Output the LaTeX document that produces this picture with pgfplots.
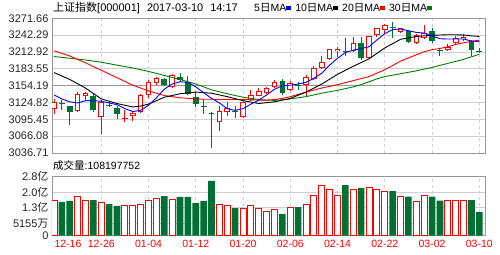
\documentclass[border=0pt]{standalone}
\usepackage{pgfplots}
\pgfplotsset{compat=1.18}
\usepackage{pgfplotstable}
\usepackage{fontspec}
\setmainfont{Liberation Sans}
\newfontfamily\cjk{Noto Sans CJK SC}
\definecolor{kred}{RGB}{255,0,0}
\definecolor{kgreen}{RGB}{0,112,52}
\definecolor{magreen}{RGB}{0,128,0}
\definecolor{gridc}{RGB}{208,208,208}
\definecolor{framec}{RGB}{150,150,150}

% up (red) candles: index, open, high, low, close, volume (100 million)
\pgfplotstableread{
i O H L C V
0 3114.1 3130.8 3105.4 3125.0 1.69
3 3109.4 3142.4 3108.3 3139.5 1.87
4 3135.5 3143.6 3128.5 3140.7 1.69
6 3099.0 3128.5 3070.6 3125.0 1.58
9 3096.0 3112.3 3090.3 3097.7 1.41
10 3100.7 3110.6 3092.1 3106.5 1.41
11 3107.7 3138.9 3106.5 3137.2 1.49
12 3137.2 3164.4 3132.0 3160.3 1.69
13 3158.6 3168.4 3155.7 3166.7 1.77
15 3151.7 3174.8 3149.9 3173.1 1.72
21 3090.3 3118.1 3074.7 3109.4 1.46
22 3107.7 3125.0 3100.7 3115.2 1.41
24 3099.6 3127.4 3097.8 3125.0 1.31
25 3128.5 3145.9 3127.0 3137.2 1.41
26 3136.6 3149.9 3135.5 3144.2 1.31
27 3141.3 3151.0 3139.0 3149.4 1.17
28 3151.7 3164.4 3150.0 3160.3 1.22
30 3145.9 3161.5 3144.1 3158.6 1.36
32 3155.7 3173.1 3133.7 3168.4 1.50
33 3166.1 3188.0 3164.0 3185.8 1.93
34 3184.7 3206.1 3184.0 3196.2 2.40
35 3200.9 3218.5 3199.0 3217.6 2.20
36 3214.0 3222.0 3205.0 3218.0 1.93
38 3214.7 3238.5 3213.0 3229.2 2.20
40 3202.0 3241.5 3200.0 3240.8 2.31
41 3242.5 3254.5 3239.6 3254.1 2.17
42 3251.2 3262.0 3245.0 3260.5 2.12
44 3248.3 3255.0 3246.0 3254.1 1.88
46 3228.1 3243.5 3226.5 3242.5 1.60
47 3236.7 3259.9 3235.0 3246.6 1.93
50 3216.4 3226.0 3214.0 3222.3 1.65
51 3229.0 3240.0 3227.0 3238.0 1.69
52 3235.5 3245.0 3232.0 3239.5 1.69
}\upc

% down (green) candles
\pgfplotstableread{
i O H L C V
1 3123.7 3128.5 3112.3 3122.0 1.60
2 3118.1 3119.0 3086.3 3107.7 1.65
5 3135.5 3139.5 3107.7 3112.3 1.69
7 3120.2 3125.0 3116.4 3118.5 1.50
8 3115.2 3118.1 3096.1 3105.4 1.41
14 3165.6 3167.5 3154.0 3155.7 1.88
16 3168.4 3175.4 3159.8 3163.2 1.84
17 3159.8 3171.3 3138.4 3140.1 1.84
18 3133.7 3143.6 3116.4 3122.7 1.55
19 3118.1 3130.8 3105.4 3116.4 1.65
20 3107.0 3108.0 3045.0 3104.0 2.60
23 3109.2 3118.1 3097.8 3107.5 1.31
29 3161.5 3165.6 3138.4 3141.3 1.04
31 3156.0 3160.0 3146.0 3153.5 1.36
37 3215.0 3236.7 3206.0 3213.0 2.40
39 3228.1 3238.5 3199.0 3203.2 2.26
43 3257.0 3264.5 3236.7 3254.0 2.12
45 3249.5 3252.0 3228.1 3229.8 1.85
48 3250.0 3254.1 3228.1 3231.5 1.85
49 3216.0 3219.0 3206.0 3214.3 1.66
53 3232.0 3233.0 3206.7 3216.5 1.69
54 3214.7 3219.0 3211.0 3213.0 1.12
}\downc

% moving averages
\pgfplotstableread{
i m5 m10 m20 m30
0 3138 3177 3215 3205
1 3131 3171 3210.5 3203.5
2 3126 3165 3206 3202
3 3124 3157.5 3200 3200.5
4 3128 3150 3194 3199
5 3128 3140.5 3187.5 3197
6 3127 3131 3181 3195
7 3124 3127 3174.5 3192.5
8 3121 3123 3168 3190
9 3114 3120 3161.5 3187.5
10 3109 3117 3155 3185
11 3111 3118.5 3150 3182
12 3120 3122 3145 3179
13 3133 3128 3141 3175.5
14 3148 3134 3137 3172
15 3157 3137 3135 3168.5
16 3161 3140 3133 3165
17 3160 3141.5 3132 3161
18 3152 3143 3131 3157
19 3142 3142 3130.5 3152
20 3132 3141 3130.5 3147
21 3124 3138 3130 3143.5
22 3114 3135 3130 3140
23 3111 3131.5 3130 3137
24 3114 3128 3130 3134
25 3122 3125.5 3129.5 3132
26 3129 3123 3129 3130
27 3138 3124.5 3129 3129
28 3148 3126 3130 3128.5
29 3154 3129 3132 3129.5
30 3155 3132 3135 3131
31 3157 3137.5 3139 3133
32 3160 3143 3143 3135
33 3167 3150 3146.5 3138
34 3176 3157 3150 3141
35 3190 3165.5 3153 3143.5
36 3202 3174 3156 3146
37 3212 3181 3159.5 3149
38 3216 3188 3163 3152
39 3219 3194.5 3166.5 3156
40 3222 3201 3170 3161
41 3234 3210.5 3176 3166
42 3245 3220 3182 3170
43 3252 3227.5 3189.5 3172.5
44 3253 3235 3197 3175
45 3250 3237.5 3202.5 3177.5
46 3247 3240 3208 3180
47 3246 3241 3213.5 3183
48 3241 3242 3217 3186
49 3236 3242.5 3219 3189.5
50 3235.5 3243 3222 3193
51 3235.5 3243 3226 3196.5
52 3235.5 3242.5 3229 3200
53 3232 3241 3231.5 3204.5
54 3231 3240 3233.5 3209
}\ma

\pgfplotsset{
  kbase/.style={
    scale only axis, anchor=south west, width=433bp,
    xmin=-0.254, xmax=54.72,
    axis line style={draw=framec, line width=0.8bp},
    major tick length=0pt,
    xtick={6,12,...,54},
    xmajorgrids, ymajorgrids,
    x grid style={draw=gridc, dashed, line width=0.8bp},
    y grid style={draw=gridc, solid, line width=0.8bp},
    yticklabel style={font=\fontsize{11bp}{12bp}\selectfont, text=black!85},
  },
  wick/.style={draw=none, mark=none, forget plot,
    error bars/.cd, y dir=plus, y explicit, error mark=none,
    error bar style={draw=#1, solid, line width=1bp}},
  body/.style 2 args={draw=none, mark=none, forget plot,
    error bars/.cd, y dir=plus, y explicit, error mark=none,
    error bar style={draw=#1, solid, line width=#2}},
}

\begin{document}
\begin{tikzpicture}
\path[use as bounding box] (0,0) rectangle (500bp,255bp);

% ---------- price panel ----------
\begin{axis}[kbase,
  at={(52bp,102bp)}, height=134.7bp,
  ymin=3036.71, ymax=3271.66,
  xticklabels={},
  ytick={3036.71,3066.08,3095.45,3124.82,3154.19,3183.55,3212.92,3242.29,3271.66},
  yticklabels={3036.71,3066.08,3095.45,3124.82,3154.19,3183.55,3212.92,3242.29,3271.66},
]
\addplot[framec, line width=0.8bp, mark=none, forget plot] coordinates {(-0.254,3154.19) (54.72,3154.19)};
% green candles
\addplot[wick=kgreen] table[x=i, y=L, y error expr={\thisrow{H}-\thisrow{L}}]{\downc};
\addplot[body={kgreen}{5.8bp}] table[x=i, y=C, y error expr={\thisrow{O}-\thisrow{C}}]{\downc};
% red candles
\addplot[wick=kred] table[x=i, y=L, y error expr={\thisrow{H}-\thisrow{L}}]{\upc};
\addplot[body={kred}{5.6bp}] table[x=i, y=O, y error expr={\thisrow{C}-\thisrow{O}}]{\upc};
\addplot[body={white}{3.6bp}] table[x=i, y expr={\thisrow{O}+1.74}, y error expr={max(\thisrow{C}-\thisrow{O}-3.48,0)}]{\upc};
% moving averages
\addplot[magreen, line width=0.9bp, mark=none] table[x=i, y=m30]{\ma};
\addplot[kred, line width=0.9bp, mark=none] table[x=i, y=m20]{\ma};
\addplot[black, line width=0.9bp, mark=none] table[x=i, y=m10]{\ma};
\addplot[blue, line width=0.9bp, mark=none] table[x=i, y=m5]{\ma};
\end{axis}

% ---------- volume panel ----------
\begin{axis}[kbase,
  at={(52bp,19.3bp)}, height=59bp,
  ymin=0, ymax=2.8,
  ytick={0,0.59,1.33,2.06,2.8},
  yticklabels={0,5155{\cjk 万},1.3{\cjk 亿},2.0{\cjk 亿},2.8{\cjk 亿}},
  xticklabels={12-26,01-04,01-12,01-20,02-06,02-14,02-22,03-02,03-10},
  xticklabel style={text=kred, font=\fontsize{10.5bp}{12bp}\selectfont, yshift=-1bp},
  extra x ticks={0}, extra x tick labels={12-16},
  extra x tick style={xmajorgrids=false, xticklabel style={xshift=14bp}},
]
\addplot[ybar, bar width=6bp, bar shift=0pt, draw=kred, fill=white, line width=1bp] table[x=i, y=V]{\upc};
\addplot[ybar, bar width=6.6bp, bar shift=0pt, draw=none, fill=kgreen] table[x=i, y=V]{\downc};
\end{axis}

% ---------- texts ----------
\node[anchor=west, inner sep=0pt, font=\fontsize{11bp}{12bp}\selectfont] at (53bp,247bp)
  {{\cjk 上证指数}[000001]\hspace{7bp}2017-03-10\hspace{7bp}14:17};
\node[anchor=west, inner sep=0pt, font=\fontsize{10.5bp}{12bp}\selectfont] at (254bp,247bp)
  {5{\cjk 日}MA\textcolor{blue}{\rule[2bp]{5bp}{3.5bp}}\hspace{4bp}%
   10{\cjk 日}MA\textcolor{black}{\rule[2bp]{5bp}{3.5bp}}\hspace{4bp}%
   20{\cjk 日}MA\textcolor{kred}{\rule[2bp]{5bp}{3.5bp}}\hspace{4bp}%
   30{\cjk 日}MA\textcolor{magreen}{\rule[2bp]{5bp}{3.5bp}}};
\node[anchor=west, inner sep=0pt, font=\fontsize{10.5bp}{12bp}\selectfont] at (53bp,89.5bp)
  {{\cjk 成交量}:108197752};
\end{tikzpicture}
\end{document}
